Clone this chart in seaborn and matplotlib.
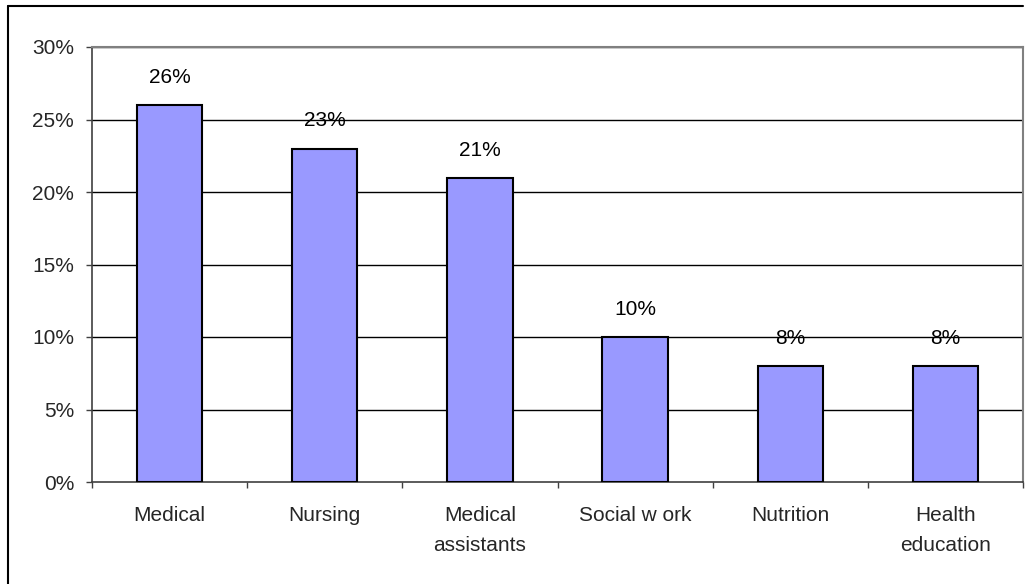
import matplotlib
matplotlib.use("Agg")
import matplotlib.pyplot as plt
import seaborn as sns
import pandas as pd
from matplotlib.lines import Line2D
from matplotlib.ticker import FixedLocator

categories = ["Medical", "Nursing", "Medical\nassistants", "Social w ork", "Nutrition", "Health\neducation"]
values = [26, 23, 21, 10, 8, 8]
yticks = [0, 5, 10, 15, 20, 25, 30]

sns.set_style("white")
plt.rcParams['font.family'] = ['Liberation Sans', 'DejaVu Sans']

fig = plt.figure(figsize=(10.32, 5.84), dpi=100)
W, H = 1032, 584
ax = fig.add_axes([92 / W, 1 - 482 / H, (1023 - 92) / W, (482 - 47) / H])

df = pd.DataFrame({"cat": categories, "val": values})
sns.barplot(data=df, x="cat", y="val", color="#9999FF", saturation=1,
            width=0.42, edgecolor="black", linewidth=1.5, ax=ax, zorder=3)

ax.set_ylim(0, 30)
ax.set_xlim(-0.5, len(categories) - 0.5)
ax.set_yticks(yticks)
ax.set_yticklabels([f"{t}%" for t in yticks])
for t in yticks[1:]:
    ax.axhline(t, color="black", linewidth=1.0, zorder=1)

ax.set_xlabel("")
ax.set_ylabel("")
ax.tick_params(axis="y", length=4.3, width=1, color="#404040", pad=8.6,
               labelsize=15, left=True, direction="out")
ax.set_xticks(list(range(len(categories))))
ax.set_xticklabels(categories, fontsize=15, linespacing=1.75)
ax.tick_params(axis="x", which="major", length=0, pad=17)
ax.xaxis.set_minor_locator(FixedLocator([b - 0.5 for b in range(len(categories) + 1)]))
ax.tick_params(axis="x", which="minor", length=4.3, width=1, color="#404040",
               bottom=True, direction="out")

for s in ["top", "right"]:
    ax.spines[s].set_color("#808080")
    ax.spines[s].set_linewidth(1.5)
ax.spines["left"].set_color("#404040")
ax.spines["left"].set_linewidth(1.2)
ax.spines["bottom"].set_color("#404040")
ax.spines["bottom"].set_linewidth(1.2)

for i, v in enumerate(values):
    ax.annotate(f"{v}%", xy=(i, v), xytext=(0, 18), textcoords="offset pixels",
                ha="center", va="bottom", fontsize=15, color="black")

# outer frame (left and top edges)
fig.add_artist(Line2D([8 / W, 8 / W], [0, 1 - 6 / H], color="black", linewidth=1.5,
                      transform=fig.transFigure))
fig.add_artist(Line2D([8 / W, 1023 / W], [1 - 6 / H, 1 - 6 / H], color="black", linewidth=1.5,
                      transform=fig.transFigure))

fig.savefig("out.png", dpi=100)
